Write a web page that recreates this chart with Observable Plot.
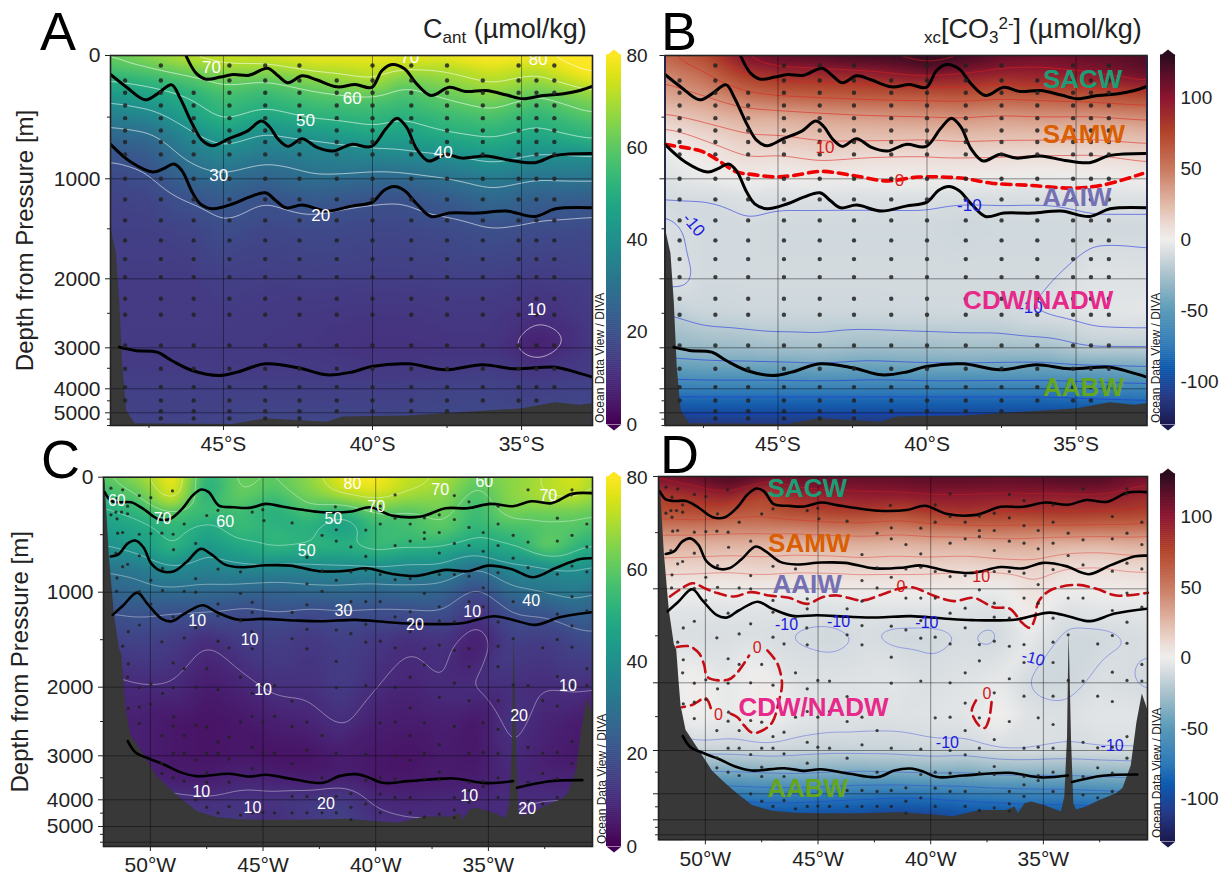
<!DOCTYPE html>
<html><head><meta charset="utf-8">
<script src="https://cdn.jsdelivr.net/npm/d3@7"></script>
<script src="https://cdn.jsdelivr.net/npm/@observablehq/plot@0.6"></script>
<style>
html,body{margin:0;padding:0;background:#fff}
#page{position:relative;width:1227px;height:877px;overflow:hidden;font-family:"Liberation Sans",Arial,sans-serif;color:#111}
#page>svg,#page>figure{position:absolute;margin:0}
.let{position:absolute;font-size:54px;line-height:56px;color:#000}
.ttl{position:absolute;font-size:27px;line-height:30px;white-space:nowrap;color:#222}
.ttl sub{font-size:17px;vertical-align:-5px;line-height:0}
.ttl sup{font-size:17px;vertical-align:9px;line-height:0}
.ttl .pre{font-size:17px;vertical-align:-5px}
.odv{position:absolute;font-size:12px;line-height:12px;white-space:nowrap;color:#222;transform-origin:0 0;transform:rotate(-90deg)}
</style></head><body><div id="page"></div>
<script>
// ---------- Isopycnal boundaries (lon, depth) ----------
const southLine1=[[-46.26,0],[-45.92,143],[-45.58,192],[-45.1,175],[-44.68,154],[-44.14,160],[-43.52,103],[-43.18,162],[-42.84,221],[-42.36,165],[-41.88,197],[-41.19,254],[-40.58,235],[-40.03,259],[-39.68,122],[-39.34,73],[-38.93,108],[-38.52,230],[-38.04,324],[-37.42,257],[-36.88,292],[-36.19,284],[-35.5,321],[-34.96,351],[-34.27,324],[-33.59,310],[-33.04,284],[-32.63,251]];
const southLine2=[[-48.79,154],[-48.25,257],[-47.63,359],[-47.22,311],[-46.74,238],[-46.47,338],[-46.05,553],[-45.71,689],[-45.37,732],[-44.82,675],[-44.2,613],[-43.73,532],[-43.45,580],[-43.18,675],[-42.84,737],[-42.36,675],[-41.88,743],[-41.33,775],[-40.71,721],[-40.03,737],[-39.55,594],[-39.18,508],[-38.86,580],[-38.52,757],[-38.11,856],[-37.56,802],[-37.01,832],[-36.19,815],[-35.37,851],[-34.55,869],[-33.86,810],[-32.63,794]];
const southLine3=[[-48.79,721],[-48.11,864],[-47.36,945],[-47.01,918],[-46.67,880],[-46.4,932],[-46.05,1133],[-45.78,1250],[-45.37,1300],[-44.68,1250],[-44.14,1183],[-43.59,1140],[-43.25,1217],[-42.9,1290],[-42.36,1263],[-41.53,1323],[-40.71,1273],[-40,1233],[-39.62,1117],[-39.27,1077],[-38.93,1117],[-38.52,1250],[-38.04,1377],[-37.42,1343],[-36.47,1343],[-35.5,1323],[-34.55,1377],[-33.86,1300],[-32.63,1290]];
const southLine4=[[-48.49,2990],[-47.97,3065],[-47.22,3106],[-46.74,3309],[-46.05,3553],[-45.16,3675],[-44.55,3594],[-43.59,3390],[-42.49,3488],[-41.53,3659],[-40.71,3594],[-40.03,3455],[-38.8,3390],[-37.56,3537],[-36.33,3415],[-35.23,3512],[-33.86,3472],[-33.18,3594],[-32.63,3715]];
const westLine1=[[-52.03,130],[-51.76,203],[-51.39,218],[-50.85,218],[-50.31,276],[-49.67,363],[-49.13,363],[-48.59,276],[-48.13,160],[-47.74,107],[-47.41,130],[-46.96,247],[-46.32,261],[-45.6,267],[-44.87,232],[-44.15,255],[-43.33,281],[-42.34,305],[-41.07,299],[-40.25,261],[-39.26,334],[-37.99,342],[-36.9,270],[-35.91,270],[-34.91,232],[-33.91,252],[-33.1,209],[-32.19,226],[-31.29,145],[-30.38,139]];
const westLine2=[[-51.76,690],[-51.39,667],[-51.03,580],[-50.67,551],[-50.31,609],[-49.95,754],[-49.49,818],[-48.95,818],[-48.41,740],[-47.77,623],[-47.32,667],[-46.68,760],[-45.96,783],[-44.87,766],[-43.79,769],[-42.52,818],[-41.25,812],[-40.43,792],[-39.26,841],[-38.17,858],[-36.9,806],[-35.91,818],[-35,769],[-34,798],[-33,870],[-32.01,789],[-30.92,711],[-30.38,705]];
const westLine3=[[-51.67,1239],[-51.21,1140],[-50.58,1004],[-50.13,1123],[-49.49,1281],[-49.04,1305],[-48.5,1228],[-47.68,1137],[-47.05,1211],[-46.14,1288],[-45.05,1281],[-43.6,1298],[-42.34,1305],[-40.89,1291],[-39.44,1316],[-38.17,1333],[-36.18,1326],[-34.73,1253],[-33.82,1298],[-32.92,1344],[-31.83,1263],[-30.38,1211]];
const westLine4=[[-51,2787],[-50.67,2947],[-50.04,3068],[-49.4,3197],[-48.68,3371],[-47.95,3462],[-46.5,3409],[-45.6,3470],[-44.87,3432],[-43.6,3538],[-42.34,3614],[-41.61,3462],[-40.89,3417],[-40.34,3485],[-39.71,3614],[-38.53,3576],[-36.54,3515],[-35.09,3621],[-33.91,3576],[-33.9,NaN],[-33.73,3728],[-32.37,3583],[-30.83,3553]];
// ---------- Zero contours ----------
const bZero=[[-48.77,723],[-48.22,743],[-47.57,776],[-47.05,843],[-46.4,943],[-45.82,966],[-45.1,985],[-44.45,972],[-43.55,940],[-42.51,972],[-41.34,1021],[-40.3,986],[-38.87,994],[-37.83,1044],[-36.53,1066],[-35.1,1093],[-34.06,1060],[-32.77,958]];
const dZeroMain=[[-51.57,1082],[-51.08,1000],[-50.57,950],[-49.98,1000],[-49.46,1046],[-48.72,1082],[-47.99,1036],[-47.18,1071],[-46.29,1096],[-45.48,1160],[-44.81,1089],[-44.15,1071],[-43.05,1124],[-42.16,1060],[-41.42,1000],[-40.83,986],[-39.88,1071],[-38.99,1131],[-38.1,1096],[-37.22,1195],[-36.48,1213],[-35.97,1355],[-35.6,1415],[-35.38,1320],[-35.23,1142],[-34.71,1018],[-33.53,965],[-32.65,1000],[-31.76,1071],[-30.36,1043]];
const dZeroBlob1=[[-51.27,1620],[-50.7,1612],[-50.27,1690],[-50.05,1815],[-49.9,1940],[-49,1968],[-48.58,1890],[-48.06,1710]];
const dZeroBlob2=[[-47.25,1655],[-46.8,1797],[-46.6,2015],[-46.73,2260],[-47.03,2582],[-47.47,2705],[-47.91,2740],[-48.28,2631],[-48.58,2508],[-48.95,2448]];
const dZeroBlob3=[[-49.76,2374],[-49.99,2227],[-50.57,2325],[-51.04,2360]];
const dZeroBlob4=[[-37.99,2261],[-38.18,2409],[-38.1,2508],[-37.81,2646],[-37.59,2665],[-37.41,2532],[-37.3,2286]];
// ---------- Bathymetry ----------
const southBottom=[[-48.79,1480],[-48.59,1750],[-48.48,2330],[-48.38,3470],[-48.25,4900],[-47.97,5870],[-44.68,5920],[-43.59,5470],[-41.53,5740],[-40.99,5340],[-38.79,5260],[-34.96,4830],[-33.86,4580],[-33.04,4690],[-32.63,4620]];
const westBottom=[[-52.08,0],[-52.01,36],[-51.82,689],[-51.6,1230],[-51.38,1590],[-51.27,1655],[-51.16,2015],[-51.08,2340],[-50.86,2700],[-50.27,3000],[-49.68,3480],[-49.09,3770],[-48.58,4000],[-47.91,4450],[-47.03,4670],[-46,4745],[-44.96,4770],[-43.34,4770],[-41.35,4730],[-39.87,4820],[-38.99,4880],[-37.81,4640],[-36.63,4640],[-36.26,4510],[-36.11,4770],[-35.82,4380],[-35.52,4320],[-34.86,4480],[-34.2,4700],[-34.05,4130],[-33.93,2820],[-33.86,1450],[-33.75,2860],[-33.65,4380],[-33.53,4620],[-33.09,4510],[-32.5,4256],[-31.76,4000],[-31.47,3880],[-31.1,3350],[-30.85,2590],[-30.61,2165],[-30.36,2410]];
// ---------- Stations ----------
const southLons=[-48.3,-47.1,-46,-44.8,-43.6,-42.45,-41.2,-40,-38.7,-37.5,-36.3,-35.1,-34.5,-33.9];
const southTop=[203,81,302,81,81,81,203,81,81,81,203,81,130,81];
const southBot=[4930,5440,5440,5440,5440,5440,5300,5300,5200,5200,4930,4900,4600,4400];
const southDepths=[81,203,302,405,508,608,702,802,1000,1206,1416,1616,1803,1983,2290,2522,2966,3512,3959,4486,4931,5440];
const westStations=[[-51.75,95],[-51.23,110],[-50.49,160],[-49.98,178],[-49.02,119],[-51.48,184],[-51.01,252],[-51.75,327],[-51.53,303],[-51.28,303],[-51.01,318],[-49.46,333],[-47.5,333],[-47,288],[-45.48,303],[-45.01,282],[-41.79,258],[-51.48,362],[-48.5,407],[-43.71,398],[-44.96,377],[-41.75,457],[-51.45,487],[-51.23,481],[-50.49,496],[-49.98,490],[-49.49,487],[-48.99,496],[-47.99,576],[-42.38,505],[-41.75,555],[-48.97,630],[-51.53,659],[-50.49,683],[-43.05,695],[-51.23,778],[-51.01,757],[-49.46,793],[-47,799],[-46,823],[-42.38,814],[-51.48,876],[-49.98,897],[-47.99,882],[-43.05,927],[-41.75,897],[-51.5,992],[-50.49,995],[-49.46,986],[-48.5,992],[-47.99,1000],[-46,1011],[-42.38,992],[-47,1124],[-45.48,1107],[-43.05,1132],[-49.98,1124],[-48.99,1259],[-47,1249],[-46,1302],[-43.71,1213],[-45.48,1213],[-50.49,1345],[-47.99,1373],[-50.98,1416],[-48.5,1480],[-49.49,1522],[-47,1515],[-46.51,1586],[-45.5,1416],[-43.05,1391],[-41.75,1398],[-51.23,1568],[-45.48,1596],[-43.71,1490],[-43.05,1596],
[-39.14,154],[-36.51,160],[-35.86,214],[-39.8,252],[-34.57,252],[-33.24,110],[-31.29,110],[-31.32,154],[-39.14,356],[-37.84,353],[-37.18,327],[-36.51,368],[-31.94,356],[-39.8,407],[-38.47,407],[-35.86,437],[-34.57,407],[-30.63,407],[-40.44,460],[-37.84,481],[-37.18,481],[-35.23,481],[-33.9,505],[-31.29,505],[-38.47,555],[-37.84,535],[-39.14,594],[-41.1,606],[-36.51,576],[-35.86,594],[-34.57,594],[-33.24,564],[-31.94,555],[-30.63,606],[-40.44,689],[-37.18,659],[-35.23,644],[-33.9,704],[-33.24,787],[-31.29,772],[-41.1,823],[-40.44,808],[-39.8,846],[-38.47,882],[-39.14,891],[-37.18,846],[-36.51,846],[-35.86,861],[-34.57,829],[-31.94,843],[-30.63,823],[-35.23,962],[-37.84,1011],[-41.1,1099],[-40.44,1099],[-39.8,1099],[-35.86,1099],[-33.9,1099],[-33.24,1099],[-31.29,1046],[-37.18,1153],[-35.23,1153],[-38.47,1206],[-30.63,1195],[-31.94,1231],[-39.14,1259],[-37.18,1302],[-36.51,1313],[-34.57,1313],[-40.44,1338],[-31.29,1355],[-38.47,1415],[-41.1,1437],[-40.44,1525],[-39.8,1515],[-33.9,1490],[-31.94,1497],[-39.14,1586],[-37.84,1593],[-37.18,1557],[-36.51,1611],[-35.86,1593],[-34.57,1568],[-32.59,1586],[-31.29,1579],
[-50.98,1755],[-48.99,1744],[-48.5,1805],[-47.5,1805],[-46,1894],[-41.75,1727],[-51.01,1894],[-49.98,1968],[-50.49,2005],[-48.99,2005],[-47.99,2000],[-47,2035],[-45.01,1975],[-44.49,1982],[-41.75,2005],[-49.46,2089],[-45.48,2089],[-49.98,2247],[-50.49,2286],[-50.98,2310],[-43.71,2202],[-48.97,2434],[-46,2508],[-45.48,2424],[-45.01,2508],[-44.49,2424],[-43.71,2572],[-43.05,2508],[-50.49,2528],[-48.99,2567],[-47.99,2557],[-47.5,2582],[-49.49,2705],[-48.5,2705],[-46.51,2730],[-42.38,2705],[-47,2794],[-45.48,2878],[-43.05,2916],[-48.99,2965],[-48.5,2965],[-47.5,2965],[-47,2965],[-45.01,2951],[-44.49,2965],[-41.75,2965],[-47.99,3092],[-46.51,3077],[-43.71,3177],[-49.49,3169],[-45.48,3293],[-47.5,3385],[-49.49,3400],[-48.99,3500],[-46.51,3600],[-48.5,3577],[-47.5,3600],[-42.38,3500],[-43.05,3923],[-42.38,3946],[-41.75,3923],[-43.71,3923],[-47.99,4000],[-47.5,4282],[-46.51,4256],[-47,4486],[-46,4576],[-45.48,4486],[-45.01,4473],[-44.49,4486],[-43.71,4486],[-43.05,4486],[-42.38,4486],[-41.75,4486],
[-37.84,1766],[-35.86,1784],[-34.57,1784],[-30.63,1805],[-38.47,1894],[-31.94,1887],[-36.51,1957],[-40.44,1982],[-39.14,2000],[-33.9,1975],[-33.24,1982],[-31.29,1975],[-30.63,1982],[-37.18,2148],[-35.86,2197],[-34.57,2197],[-32.59,2197],[-31.94,2276],[-38.47,2300],[-39.8,2518],[-39.14,2508],[-37.84,2518],[-36.51,2572],[-35.23,2518],[-34.57,2616],[-38.47,2705],[-37.18,2838],[-31.29,2794],[-33.24,2878],[-40.44,2980],[-39.14,3000],[-37.84,2965],[-35.86,2965],[-35.23,2951],[-34.57,2965],[-32.59,2960],[-31.94,2951],[-38.47,3100],[-31.29,3177],[-37.18,3370],[-32.59,3400],[-40.44,3554],[-39.8,3500],[-39.14,3523],[-37.84,3516],[-37.18,3554],[-35.86,3600],[-35.23,3577],[-34.57,3500],[-33.24,3600],[-31.94,3523],[-35.86,3793],[-35.23,3693],[-41.1,3861],[-39.8,3869],[-39.14,3946],[-38.47,3946],[-36.51,3946],[-34.57,3946],[-33.24,4038],[-31.94,3946],[-40.44,4154],[-35.86,4102],[-41.1,4282],[-32.59,4154],[-39.8,4486],[-38.47,4486],[-36.51,4384],[-37.18,4538],[-41.1,4742],[-37.84,4640],[-36.51,4666]];
// ---------- Fields (one column per longitude) ----------
const southFieldLons=[-48.8,-47.5,-46,-45,-43.6,-42,-40,-39,-37.5,-36,-34.5,-32.6];
const southFieldDepths=[0,100,200,300,400,500,600,700,800,1000,1200,1500,2000,2500,3000,3500,4000,6000];
const cantSouth=[
[62,57,50,44,39,34,28.5,24.5,21,17,16,15,14,14,14,14,15,16],
[67,60,53,47,42,36.5,31,26,23,19,16.5,15,14,14,13.5,14,15,16],
[74,65,58,52,49,46,41,37,33,26,20.5,16.5,14,14,13.5,14,15,16],
[75,68,62,57,54,51.5,47,41.5,37,28,23,19,15,14,13.5,14,15,16],
[76,68,60,54.5,51,47,41,37,33,25,20,17,14.5,13.5,13,13.5,15,17],
[79,72,65,59,55,51,45,39,35,29,22.5,18,15,13,12.5,13.5,15,17],
[79,74,71,62,56,53,49.5,43,37,27,20.5,17,14.5,12.5,11.5,13,15,17],
[78,72,63,57,54,50.5,47,43,38.5,27,20,17,14.5,12.5,11.5,13,15,17],
[79,71,67,62,58.5,54,51.5,46,40,29.5,23,18,15,13,12,13.5,16,18],
[83,76,71,67,62,57,53,49,44,33,27,19.5,15,13,12,14,16,18],
[81,72,68,61,56,52,49.5,45,40,30,24,18.5,14,11,6.5,12,15,18],
[85,83,78,68,63,59,54,50.5,40,31,23,18,15,14,13,14,16,18]];
const xcSouth=[
[60,50,40,34,26,17,9,1,-3,-7,-11,-9,-7,-20,-32,-48,-70,-115],
[74,62,52,42,32,23,15,9,4,-3,-11,-11,-11,-14,-30,-46,-70,-115],
[108,90,74,60,43,30,22,16,11,2,-8,-11,-11,-13,-28,-46,-70,-115],
[118,98,80,65,47,30,22,17,10,-1,-9,-12,-11,-13,-26,-46,-70,-115],
[122,100,82,68,50,33,25,20,13,2,-9,-12,-11,-13,-25,-44,-70,-115],
[128,104,84,70,53,36,26,20,11,0,-9,-12,-11,-13,-28,-47,-70,-115],
[130,118,92,70,55,38,27,18,10,2,-9,-12,-11,-12,-27,-44,-70,-115],
[128,110,90,72,55,40,28,20,11,1,-10,-13,-11,-12,-26,-44,-70,-115],
[115,102,84,68,53,36,27,19,11,0,-10,-12,-11,-12,-26,-45,-70,-115],
[110,100,90,70,55,38,27,19,10,-2,-10,-12,-11,-8,-25,-46,-70,-115],
[115,105,92,73,57,36,26,19,9,-1,-8,-12,-6,-5,-18,-44,-68,-112],
[120,118,104,80,60,42,30,20,14,2,-8,-12,-7,-4,-18,-42,-66,-110]];
const westFieldLons=[-52.08,-50.5,-49,-47.5,-46,-44.5,-43,-41.5,-40,-38.5,-37,-35.5,-34,-32.5,-31,-30.38];
const westFieldDepths=[0,100,200,300,450,600,800,1000,1200,1500,2000,2500,3000,3500,4000,5000,6500];
const cantWest=[
[60,55,52,48,44,40,30,25,20,15,8,7,6,6,10,12],
[68,62,58,52,47,44,32,27,21,16,9.5,7,7,8,12,14],
[80,78,74,58,52,53,38,28,20,14,9.5,5,5,6,12,14],
[52,48,52,55,47,42,35,27,20,10,6,4,4,6,11,13],
[62,62,60,55,55,48,37,26,18,14,8,5,5,8,12,13],
[60,58,53,50,52,53,36,25,20,15,11,7,4,7,12,10],
[66,65,62,57,50,52,36,27,18,13,11,8,4,6,13,13],
[78,75,66,49,44,52,37,27,19,15,14,11,6,7,14,16],
[80,78,70,60,53,55,38,25,19,13,10,7,5,5,9,12],
[72,72,66,58,56,52,36,27,19,10.5,8,6,4,5,8,11],
[70,68,65,62,60,50,37,25,20,12,10,7,6,6,9,10],
[62,58,56,54,52,47,28,17,12,6,10.5,5,5,6,9,9],
[66,66,66,64,56,50,37,28,20,15,11,12,10,9,10,10],
[70,71,70,62,58,62,37,31,21,14,10,8,7,8,10,12],
[76,74,70,62,58,52,40,33,26,17,11,6,5,8,10,12],
[70,68,66,60,56,50,38,30,24,18,10,6,6,8,10,12]];
const xcWest=[
[110,90,75,72,50,28,15,2,-5,-9,-5,-4,-20,-42,-70,-100],
[115,98,82,75,50,28,14,2,-6,-9,2,1,-14,-40,-70,-100],
[124,110,88,72,48,27,13,1,-6,-9,-4,-3,-14,-40,-72,-102],
[118,88,70,68,48,27,15,2,-6,-9,3,2,-12,-38,-70,-100],
[115,100,85,76,48,25,14,0,-7,-11,-6,-4,-14,-36,-70,-100],
[118,102,90,80,52,26,14,1,-7,-12,-7,-6,-15,-38,-72,-102],
[116,104,92,82,53,28,15,2,-6,-10,-6,-7,-14,-40,-74,-104],
[116,106,92,75,50,26,14,3,-6,-12,-5,-7,-14,-38,-76,-110],
[118,108,95,85,54,28,14,2,-6,-12,-8,-6,-12,-36,-74,-108],
[118,108,94,88,56,27,13,2,-6,-10,-6,-5,-13,-38,-72,-102],
[115,108,92,84,58,30,15,-2,-8,-12,-3,2,-9,-34,-70,-100],
[118,108,92,86,56,30,16,8,5,-3,-12,-7,-8,-34,-68,-98],
[122,110,90,86,58,26,10,1,-7,-12,-13,-8,-10,-34,-68,-98],
[122,110,92,85,56,25,9,2,-5,-12,-8,-5,-9,-32,-66,-95],
[112,100,88,82,56,28,12,3,-5,-10,-10,-5,-9,-30,-64,-95],
[110,98,85,80,54,27,12,3,-5,-9,-12,-5,-9,-30,-64,-95]];
// ---------- Contour levels and labels ----------
const cantLevels=[10,20,30,40,50,60,70,80];
const redLevels=[10,20,40,60,80,100,120];
const blueLevels=[-100,-80,-60,-40,-20,-10];
const aLabels=[["70",-45.4,95],["60",-40.68,346],["50",-42.25,527],["40",-37.63,791],["30",-45.16,972],["20",-41.74,1366],["70",-38.75,19],["80",-34.44,35],["10",-34.5,2452]];
const cLabels=[["60",-51.49,203],["70",-49.46,362],["60",-46.68,391],["50",-41.88,362],["80",-41.03,58],["70",-37.14,107],["60",-35.18,43],["70",-32.34,160],["70",-39.98,261],["50",-43.06,638],["40",-33.1,1095],["30",-41.43,1200],["20",-38.26,1340],["10",-47.92,1305],["10",-35.72,1210],["10",-45.6,1500],["10",-45,2035],["10",-31.47,1985],["20",-33.64,2415],["10",-47.74,3830],["10",-45.47,4310],["20",-42.21,4150],["10",-35.85,3900],["20",-33.28,4340]];
const bRed=[["10",-43.42,748],["0",-40.92,1015]];
const bBlue=[["-10",-47.83,1460,50],["-10",-38.58,1271,0],["-10",-36.53,2420,0]];
const dRed=[["0",-41.32,985],["10",-37.76,890],["0",-47.7,1628],["0",-49.42,2470],["0",-37.5,2160]];
const dBlue=[["-10",-46.4,1380,0],["-10",-44.09,1355,0],["-10",-40.17,1365,0],["-10",-35.45,1740,15],["-10",-39.26,2880,0],["-10",-31.95,2930,0]];
const bMasses=[["SACW",-34.78,197,"#1b9e77"],["SAMW",-34.74,643,"#d95f02"],["AAIW",-34.97,1186,"#7570b3"],["CDW/NADW",-36.27,2310,"#e7298a"],["AABW",-34.75,3982,"#66a61e"]];
const dMasses=[["SACW",-45.48,104,"#1b9e77"],["SAMW",-45.39,597,"#d95f02"],["AAIW",-45.48,960,"#7570b3"],["CDW/NADW",-45.2,2360,"#e7298a"],["AABW",-45.46,3885,"#66a61e"]];
// ---------- Axes and colour ----------
const depthMajor=[0,1000,2000,3000,4000,5000];
const depthMinor=[500,1500,2500,3500,4500,5500,6000];
const latTicks=[-45,-40,-35], latMinor=[-47.5,-42.5,-37.5];
const lonTicks=[-50,-45,-40,-35], lonMinor=[-47.5,-42.5,-37.5,-32.5];
const divDomain=[-130,-110,-90,-75,-50,-25,-10,0,10,25,50,75,100,115,130];
const divRange=["#1b1a4f","#253a88","#0d5bb0","#2f7ab8","#5a9ab8","#a9c2cc","#d6dce0","#efeeed","#ecdcd6","#e2b9a8","#c9795f","#b2452a","#8c1530","#5e0f28","#2a0c1f"];
const cantColor={type:"linear",scheme:"viridis",domain:[0,80],clamp:true};
const divColor={type:"linear",domain:divDomain,range:divRange,clamp:true};

const page=document.getElementById("page");
const font="'Liberation Sans',Arial,sans-serif";
const flat=(lons,depths,cols)=>lons.flatMap((lon,i)=>depths.map((d,j)=>({lon,d,v:cols[i][Math.min(j,cols[i].length-1)]})));
const X=p=>p[0], Y=p=>p[1];

function place(svg,left,top){svg.style.left=left+"px";svg.style.top=top+"px";svg.style.position="absolute";page.appendChild(svg);}

function panel(o){
  const field=flat(o.lons,o.depths,o.cols);
  const lastDepth=o.yDomain[o.yDomain.length-1];
  const cl=(arr,fill,size,extra={})=>Plot.text(arr,{x:d=>d[1],y:d=>d[2],text:d=>d[0],fill,fontSize:size,rotate:d=>d[3]||0,...extra});
  const marks=[
    Plot.raster(field,{x:"lon",y:"d",fill:"v",interpolate:"barycentric",blur:5,imageRendering:"auto"}),
    ...o.contours.map(c=>Plot.contour(field,{x:"lon",y:"d",value:"v",interpolate:"barycentric",blur:4,thresholds:c.levels,fill:"none",stroke:c.stroke,strokeWidth:c.width,strokeOpacity:c.opacity})),
    Plot.areaY(o.bottom,{x:X,y1:Y,y2:()=>lastDepth,fill:"#383838",curve:"linear"}),
    Plot.gridX(o.xTicks,{stroke:"#000",strokeOpacity:.42,strokeWidth:1}),
    Plot.gridY(o.yGrid,{stroke:"#000",strokeOpacity:.42,strokeWidth:1}),
    ...(o.zero||[]).map(z=>Plot.line(z,{x:X,y:Y,curve:"catmull-rom",stroke:o.zeroStroke,strokeWidth:o.zeroWidth,strokeDasharray:o.zeroDash})),
    ...o.lines.map(l=>Plot.line(l,{x:X,y:Y,curve:"catmull-rom",stroke:"#000",strokeWidth:o.lineWidth,clip:true})),
    Plot.dot(o.stations,{x:X,y:Y,r:o.dotR,fill:"#222",fillOpacity:.85,stroke:"none"}),
    ...o.labels.map(l=>cl(l.data,l.fill,l.size)),
    ...(o.masses?[Plot.text(o.masses,{x:d=>d[1],y:d=>d[2],text:d=>d[0],fill:d=>d[3],fontSize:26,fontWeight:"bold"})]:[]),
    Plot.axisX(o.xTicks,{label:null,tickSize:5,tickPadding:6,fontSize:21,tickFormat:o.fmt}),
    Plot.axisX(o.xMinor,{label:null,tickSize:3,tickFormat:()=>""}),
    Plot.axisY(depthMajor,{label:null,tickSize:5,tickPadding:5,fontSize:o.yLabel?21:0,tickFormat:o.yLabel?(d=>String(d)):()=>""}),
    ...(o.yLabel?[Plot.axisY([0],{label:"Depth from Pressure [m]",labelAnchor:"center",labelArrow:"none",labelOffset:o.labelOffset,tickSize:0,fontSize:24,tickFormat:()=>""})]:[]),
    Plot.axisY(depthMinor,{label:null,tickSize:3,tickFormat:()=>""}),
    Plot.frame({stroke:"#222",strokeWidth:1.6})
  ];
  const svg=Plot.plot({
    width:o.w,height:o.h,
    marginLeft:o.xPx[0]-o.left,marginRight:o.left+o.w-o.xPx[1],
    marginTop:o.yPx[0]-o.top,marginBottom:o.top+o.h-o.yPx[o.yPx.length-1],
    style:{fontFamily:font,background:"transparent",color:"#222",overflow:"visible"},
    x:{domain:o.xDomain,range:o.xPx.map(p=>p-o.left)},
    y:{type:"linear",domain:o.yDomain,range:o.yPx.map(p=>p-o.top)},
    color:o.color,
    marks
  });
  place(svg,o.left,o.top);
}

const capShape=s=>({draw(c){c.moveTo(-7.5,0);c.lineTo(0,s);c.lineTo(7.5,0);c.closePath();}});
function colorbar(o){
  const [lo,hi]=o.domain;
  const steps=d3.range(lo,hi,(hi-lo)/184);
  const step=(hi-lo)/184;
  const svg=Plot.plot({
    width:o.w,height:o.y1-o.y0+24,marginLeft:6,marginRight:o.w-21,marginTop:12,marginBottom:12,
    style:{fontFamily:font,background:"transparent",color:"#222",overflow:"visible"},
    x:{domain:[0,1],axis:null},
    y:{domain:[lo,hi],range:[o.y1-o.y0+12,12],axis:null},
    color:o.color,
    marks:[
      Plot.rect(steps,{x1:()=>0,x2:()=>1,y1:d=>d,y2:d=>d+step+step*.3,fill:d=>d+step/2}),
      Plot.dot([hi],{x:()=>.5,y:d=>d,symbol:capShape(-6),fill:o.topColor,stroke:"none"}),
      Plot.dot([lo],{x:()=>.5,y:d=>d,symbol:capShape(6),fill:o.botColor,stroke:"none"}),
      Plot.axisY(o.ticks,{anchor:"right",label:null,tickSize:0,tickPadding:5,fontSize:19,tickFormat:d=>String(d)})
    ]
  });
  place(svg,o.left,o.y0-12);
}

const yA=[0,1000,2000,3000,4000,5000,6000], yPxA=[55,178.3,278.3,347.3,388.3,412.3,425];
const yC=[0,1000,2000,3000,4000,5000,6000,6500];
const southStations=southLons.flatMap((lon,i)=>southDepths.filter(d=>d>=southTop[i]&&d<=southBot[i]).map(d=>[lon,d]));
const westAll=[westLine1,westLine2,westLine3,westLine4];
const southAll=[southLine1,southLine2,southLine3,southLine4];
const fmtS=d=>`${-d}°S`, fmtW=d=>`${-d}°W`;
const latDomain=[-48.79,-32.62], lonDomainC=[-52.08,-30.38];

panel({left:0,top:42,w:600,h:418,xPx:[110,592],yPx:yPxA,xDomain:latDomain,yDomain:yA,color:cantColor,
  lons:southFieldLons,depths:southFieldDepths,cols:cantSouth,
  contours:[{levels:cantLevels,stroke:"#fff",width:.8,opacity:.75}],
  bottom:southBottom,lines:southAll,lineWidth:3,stations:southStations,dotR:2.2,
  labels:[{data:aLabels,fill:"#fff",size:17}],xTicks:latTicks,xMinor:latMinor,fmt:fmtS,
  yGrid:[1000,2000,3000,4000,5000],yLabel:true,labelOffset:95});

panel({left:650,top:42,w:504,h:418,xPx:[664.5,1146.5],yPx:yPxA,xDomain:latDomain,yDomain:yA,color:divColor,
  lons:southFieldLons,depths:southFieldDepths,cols:xcSouth,
  contours:[{levels:redLevels,stroke:"#e0201c",width:.7,opacity:.8},{levels:blueLevels,stroke:"#1d2ee0",width:.7,opacity:.8}],
  bottom:southBottom,lines:southAll,lineWidth:3,stations:southStations,dotR:2.2,
  zero:[bZero],zeroStroke:"#f00000",zeroWidth:3.6,zeroDash:"9,6",
  labels:[{data:bRed,fill:"#d8201c",size:17},{data:bBlue,fill:"#1a1ae0",size:17}],masses:bMasses,
  xTicks:latTicks,xMinor:latMinor,fmt:fmtS,yGrid:[1000,2000,3000,4000,5000],yLabel:false,labelOffset:0});

panel({left:0,top:462,w:600,h:415,xPx:[103,592],yPx:[476.7,591.7,686.7,755.3,799.3,826,841.7,846],xDomain:lonDomainC,yDomain:yC,color:cantColor,
  lons:westFieldLons,depths:westFieldDepths,cols:cantWest,
  contours:[{levels:cantLevels,stroke:"#fff",width:.7,opacity:.55}],
  bottom:westBottom,lines:westAll,lineWidth:2.6,stations:westStations,dotR:1.6,
  labels:[{data:cLabels,fill:"#fff",size:16}],xTicks:lonTicks,xMinor:lonMinor,fmt:fmtW,
  yGrid:[1000,2000,3000,4000,5000,6000],yLabel:true,labelOffset:93});

panel({left:650,top:462,w:504,h:415,xPx:[658,1147],yPx:[476,588.3,682.3,750,793.3,819.3,834.3,839.3],xDomain:lonDomainC,yDomain:yC,color:divColor,
  lons:westFieldLons,depths:westFieldDepths,cols:xcWest,
  contours:[{levels:redLevels,stroke:"#e0201c",width:.7,opacity:.55},{levels:blueLevels,stroke:"#1d2ee0",width:.7,opacity:.5}],
  bottom:westBottom,lines:westAll,lineWidth:2.6,stations:westStations,dotR:1.6,
  zero:[dZeroMain,dZeroBlob1,dZeroBlob2,dZeroBlob3,dZeroBlob4],zeroStroke:"#c40d14",zeroWidth:2.6,zeroDash:"11,6",
  labels:[{data:dRed,fill:"#d01818",size:16},{data:dBlue,fill:"#1a1ae0",size:16}],masses:dMasses,
  xTicks:lonTicks,xMinor:lonMinor,fmt:fmtW,yGrid:[1000,2000,3000,4000,5000,6000],yLabel:false,labelOffset:0});

colorbar({left:600,w:50,y0:55,y1:424,domain:[0,80],ticks:[0,20,40,60,80],color:cantColor,topColor:"#fde725",botColor:"#440154"});
colorbar({left:1154,w:73,y0:55,y1:424,domain:[-130,130],ticks:[-100,-50,0,50,100],color:divColor,topColor:"#2a0c1f",botColor:"#1b1a4f"});
colorbar({left:600,w:50,y0:477,y1:846,domain:[0,80],ticks:[0,20,40,60,80],color:cantColor,topColor:"#fde725",botColor:"#440154"});
colorbar({left:1154,w:73,y0:474,y1:841,domain:[-130,130],ticks:[-100,-50,0,50,100],color:divColor,topColor:"#2a0c1f",botColor:"#1b1a4f"});

function html(cls,inner,left,top){const e=document.createElement("div");e.className=cls;e.innerHTML=inner;e.style.left=left+"px";e.style.top=top+"px";page.appendChild(e);}
html("let","A",40,3);html("let","B",661,3);html("let","C",41,431);html("let","D",660,426);
html("ttl","C<sub>ant</sub> (µmol/kg)",423,14);
html("ttl",'<span class="pre">xc</span>[CO<sub>3</sub><sup>2-</sup>] (µmol/kg)',924,14);
html("odv","Ocean Data View / DIVA",594,423);html("odv","Ocean Data View / DIVA",1150,423);
html("odv","Ocean Data View / DIVA",596,844);html("odv","Ocean Data View / DIVA",1151,838);
</script></body></html>
